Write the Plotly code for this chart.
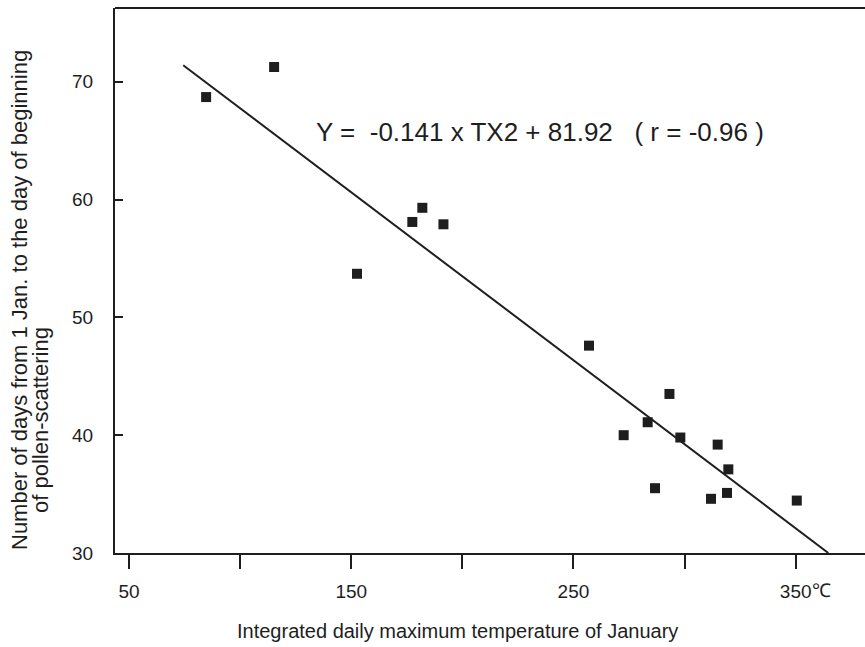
import plotly.graph_objects as go

# Data
temp_x = [84.7, 115.3, 152.6, 177.5, 182.0, 191.5, 257.0, 293.2, 283.4, 272.6,
          298.1, 314.9, 319.7, 286.7, 319.1, 311.9, 350.5]
days_y = [68.7, 71.25, 53.7, 58.1, 59.3, 57.9, 47.6, 43.5, 41.1, 40.0,
          39.8, 39.2, 37.1, 35.5, 35.1, 34.6, 34.45]

# Regression line endpoints (Y = -0.141 x TX2 + 81.92)
fit_x = [74.4, 364.7]
fit_y = [71.4, 30.0]

x_tickvals = [50, 100, 150, 200, 250, 300, 350]
x_ticktext = ["50", "", "150", "", "250", "", "350"]
y_tickvals = [30, 40, 50, 60, 70]
y_ticktext = ["30", "40", "50", "60", "70"]

FONT = "Liberation Sans, Arial, Helvetica, sans-serif"
INK = "#1e1e1e"

W, H = 865, 647
L, R, T, B = 115, 0, 8, 94
PW, PH = W - L - R, H - T - B

def px_x(p):
    return (p - L) / PW

def px_y(p):
    return 1 - (p - T) / PH

fig = go.Figure()
fig.add_trace(go.Scatter(x=fit_x, y=fit_y, mode="lines",
                         line=dict(color=INK, width=2), showlegend=False,
                         hoverinfo="skip"))
fig.add_trace(go.Scatter(x=temp_x, y=days_y, mode="markers",
                         marker=dict(symbol="square", size=10, color=INK,
                                     line=dict(width=0)),
                         showlegend=False))

fig.update_layout(
    width=W, height=H,
    margin=dict(l=L, r=R, t=T, b=B, pad=0),
    paper_bgcolor="white", plot_bgcolor="white",
    font=dict(family=FONT, color=INK),
    xaxis=dict(range=[43.7, 381.2], tickmode="array", tickvals=x_tickvals,
               ticktext=x_ticktext, ticks="outside", ticklen=14, tickwidth=2,
               tickcolor=INK, showline=True, linecolor=INK, linewidth=2,
               showgrid=False, zeroline=False, tickfont=dict(size=19),
               ticklabelstandoff=6),
    yaxis=dict(range=[30, 76.26], tickmode="array", tickvals=y_tickvals,
               ticktext=y_ticktext, ticks="inside", ticklen=8, tickwidth=2,
               tickcolor=INK, showline=True, linecolor=INK, linewidth=2,
               showgrid=False, zeroline=False, tickfont=dict(size=19),
               ticklabelstandoff=16),
    shapes=[dict(type="line", xref="paper", yref="paper", x0=0, x1=1, y0=1, y1=1,
                 line=dict(color=INK, width=2))],
    annotations=[
        dict(text="Y =  -0.141 x TX2 + 81.92   ( r = -0.96 )", xref="paper", yref="paper",
             x=px_x(540), y=px_y(132), xanchor="center", yanchor="middle",
             showarrow=False, font=dict(size=26)),
        dict(text="Integrated daily maximum temperature of January", xref="paper", yref="paper",
             x=px_x(457), y=px_y(631), xanchor="center", yanchor="middle",
             showarrow=False, font=dict(size=20)),
        dict(text="Number of days from 1 Jan. to the day of beginning", xref="paper", yref="paper",
             x=px_x(19), y=px_y(300), xanchor="center", yanchor="middle", textangle=-90,
             showarrow=False, font=dict(size=22)),
        dict(text="of pollen-scattering", xref="paper", yref="paper",
             x=px_x(40), y=px_y(420), xanchor="center", yanchor="middle", textangle=-90,
             showarrow=False, font=dict(size=22)),
        dict(text="℃", xref="x", yref="paper", x=350, y=px_y(590),
             xanchor="left", yanchor="middle", xshift=14,
             showarrow=False, font=dict(size=19)),
    ],
)

fig.write_html("out.html")
